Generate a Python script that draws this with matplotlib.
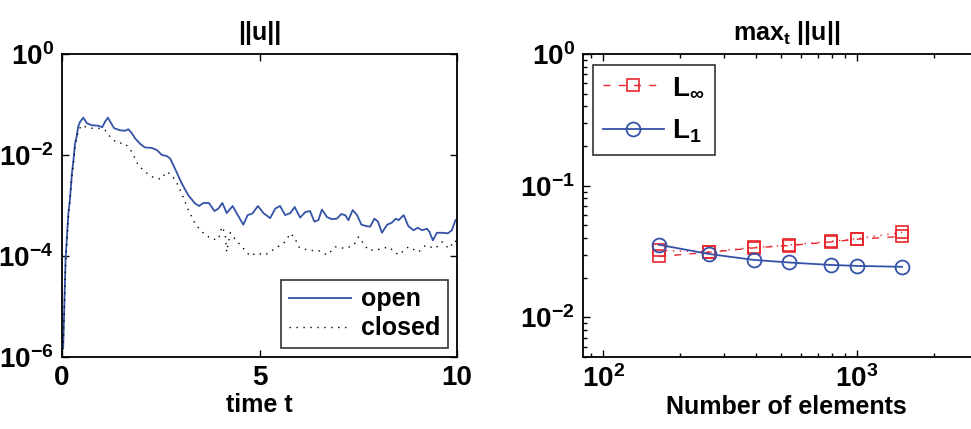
import numpy as np
import matplotlib
matplotlib.use("Agg")
import matplotlib.pyplot as plt
from matplotlib.ticker import FixedLocator, FuncFormatter, LogLocator, NullFormatter, NullLocator

plt.rcParams['font.family'] = ['Liberation Sans', 'DejaVu Sans']
plt.rcParams['font.weight'] = 'bold'
plt.rcParams['mathtext.fontset'] = 'custom'
plt.rcParams['mathtext.rm'] = 'Liberation Sans:bold'
plt.rcParams['mathtext.bf'] = 'Liberation Sans:bold'
plt.rcParams['mathtext.it'] = 'Liberation Sans:bold'
plt.rcParams['mathtext.sf'] = 'Liberation Sans:bold'

# ---- left panel data: time series (log10 of ||u||) ----
t_open = [0.03, 0.09, 0.16, 0.20, 0.25, 0.29, 0.33, 0.37, 0.41, 0.46, 0.54, 0.63, 0.75, 0.92,
          1.02, 1.09, 1.16, 1.22, 1.32, 1.47, 1.60, 1.68, 1.77, 1.85, 1.98, 2.10, 2.27, 2.40,
          2.53, 2.65, 2.74, 2.86, 3.03, 3.20, 3.37, 3.47, 3.58, 3.72, 3.86, 3.96, 4.06, 4.17,
          4.32, 4.45, 4.59, 4.70, 4.82, 4.96, 5.10, 5.27, 5.40, 5.52, 5.65, 5.78, 5.89, 6.03,
          6.16, 6.28, 6.39, 6.49, 6.58, 6.71, 6.83, 6.96, 7.07, 7.17, 7.25, 7.36, 7.47, 7.58,
          7.72, 7.80, 7.91, 8.00, 8.10, 8.23, 8.35, 8.45, 8.52, 8.65, 8.77, 8.90, 9.01, 9.11,
          9.24, 9.30, 9.39, 9.49, 9.62, 9.77, 9.87, 9.96, 10.0]
log_open = [-5.80, -4.08, -3.16, -2.89, -2.37, -2.10, -1.77, -1.64, -1.44, -1.34, -1.26, -1.37, -1.41, -1.42,
            -1.45, -1.34, -1.26, -1.34, -1.47, -1.51, -1.52, -1.49, -1.57, -1.67, -1.78, -1.85, -1.86, -1.90,
            -2.00, -2.02, -2.07, -2.27, -2.56, -2.80, -2.96, -3.01, -2.95, -2.95, -3.11, -3.06, -2.95, -3.15,
            -3.01, -3.19, -3.38, -3.19, -3.16, -3.01, -3.15, -3.25, -3.06, -3.01, -3.19, -3.15, -3.03, -3.24,
            -3.13, -3.11, -3.32, -3.29, -3.08, -3.23, -3.27, -3.26, -3.17, -3.19, -3.29, -3.09, -3.19, -3.38,
            -3.41, -3.42, -3.26, -3.32, -3.54, -3.38, -3.34, -3.26, -3.29, -3.19, -3.41, -3.49, -3.44, -3.49,
            -3.46, -3.52, -3.69, -3.54, -3.54, -3.55, -3.49, -3.29, -3.28]

t_closed = [0.03, 0.09, 0.16, 0.25, 0.33, 0.41, 0.50, 0.67, 0.92, 1.09, 1.22, 1.39, 1.60, 1.77,
            1.93, 2.10, 2.27, 2.51, 2.65, 2.78, 2.91, 3.03, 3.20, 3.37, 3.54, 3.79, 3.96, 4.05,
            4.13, 4.17, 4.26, 4.43, 4.64, 4.76, 4.93, 5.14, 5.40, 5.65, 5.78, 5.90, 5.99, 6.24,
            6.49, 6.71, 6.92, 7.17, 7.38, 7.51, 7.63, 7.76, 8.01, 8.27, 8.52, 8.77, 9.03, 9.20,
            9.45, 9.62, 9.79, 9.96, 10.0]
log_closed = [-5.85, -4.15, -3.25, -2.45, -1.85, -1.52, -1.41, -1.47, -1.47, -1.51, -1.64, -1.76, -1.77, -1.94,
              -2.20, -2.33, -2.43, -2.48, -2.33, -2.40, -2.56, -2.76, -3.09, -3.36, -3.52, -3.67, -3.67, -3.42,
              -3.55, -3.92, -3.54, -3.71, -3.89, -4.00, -3.94, -3.98, -3.85, -3.72, -3.55, -3.65, -3.82, -3.89,
              -3.89, -3.98, -3.82, -3.85, -3.79, -3.62, -3.75, -3.89, -3.87, -3.82, -3.98, -3.82, -3.92, -3.79,
              -3.85, -3.72, -3.85, -3.69, -3.82]

# ---- right panel data ----
n_elem = [166, 261, 393, 540, 790, 1000, 1503]
L1_vals = [0.0356, 0.0303, 0.0273, 0.0261, 0.0250, 0.0246, 0.0242]
Linf_vals = [0.0290, 0.0312, 0.0337, 0.0351, 0.0374, 0.0392, 0.0412]
Linf_vals_b = [0.0322, 0.0315, 0.0340, 0.0354, 0.0378, 0.0396, 0.0442]

blue = '#3453A8'
red = '#E8262C'
FS = 18
TFS = 20

W, H = 971, 429
fig = plt.figure(figsize=(W / 100, H / 100), dpi=100)

def frac(x0, y0, x1, y1):
    return [x0 / W, 1 - y1 / H, (x1 - x0) / W, (y1 - y0) / H]

def sci(v, pos):
    e = int(round(np.log10(v)))
    return r'$\mathbf{10^{%d}}$' % e

# ---------------- left axes ----------------
ax1 = fig.add_axes(frac(62, 54, 457, 357))
ax1.plot(t_open, 10 ** np.array(log_open), color=blue, lw=1.3, label='open')
ax1.plot(t_closed, 10 ** np.array(log_closed), color='black', lw=1.0,
         linestyle=(0, (1, 4)), label='closed')
ax1.set_yscale('log')
ax1.set_xlim(0, 10)
ax1.set_ylim(1e-6, 1)
ax1.xaxis.set_major_locator(FixedLocator([0, 5, 10]))
ax1.yaxis.set_major_locator(FixedLocator([1e-6, 1e-4, 1e-2, 1]))
ax1.yaxis.set_minor_locator(NullLocator())
ax1.yaxis.set_major_formatter(FuncFormatter(sci))
ax1.set_xlabel('time t', fontsize=FS, fontweight='bold', labelpad=1)
ax1.set_title('||u||', fontsize=FS, fontweight='bold', pad=10)
leg1 = ax1.legend(loc='lower right', bbox_to_anchor=(0.978, 0.03), fontsize=FS,
                  frameon=True, fancybox=False, edgecolor='black', handlelength=2.5,
                  borderpad=0.3, labelspacing=0.2, handletextpad=0.4, borderaxespad=0)
leg1.get_frame().set_linewidth(1.2)

# ---------------- right axes ----------------
ax2 = fig.add_axes(frac(583, 54, 990, 357))
ax2.plot(n_elem, Linf_vals_b, color=red, lw=1.0, linestyle=(0, (1, 4)), marker='s',
         ms=8, mfc='none', mec=red, mew=1.2)
ax2.plot(n_elem, Linf_vals, color=red, lw=1.0, linestyle=(0, (5, 6)), marker='s',
         ms=8, mfc='none', mec=red, mew=1.2, label=r'L$_{\infty}$')
ax2.plot(n_elem, L1_vals, color=blue, lw=1.3, linestyle='-', marker='o',
         ms=10, mfc='none', mec=blue, mew=1.3, label=r'L$_{1}$')
ax2.set_xscale('log')
ax2.set_yscale('log')
ax2.set_xlim(10 ** 1.921, 10 ** (1.921 + (990 - 583) / 254.0))
ax2.set_ylim(0.005, 1)
ax2.xaxis.set_major_locator(FixedLocator([100, 1000]))
ax2.xaxis.set_minor_locator(LogLocator(base=10, subs=np.arange(2, 10), numticks=20))
ax2.yaxis.set_major_locator(FixedLocator([0.01, 0.1, 1]))
ax2.yaxis.set_minor_locator(LogLocator(base=10, subs=np.arange(2, 10), numticks=20))
ax2.xaxis.set_major_formatter(FuncFormatter(sci))
ax2.yaxis.set_major_formatter(FuncFormatter(sci))
ax2.xaxis.set_minor_formatter(NullFormatter())
ax2.yaxis.set_minor_formatter(NullFormatter())
ax2.set_xlabel('Number of elements', fontsize=FS, fontweight='bold', labelpad=1)
ax2.set_title(r'max$_{\mathbf{t}}$ ||u||', fontsize=FS, fontweight='bold', pad=10)
h, l = ax2.get_legend_handles_labels()
leg2 = ax2.legend(h, l, loc='upper left', bbox_to_anchor=(0.025, 0.964), fontsize=FS + 2,
                  frameon=True, fancybox=False, edgecolor='black', handlelength=2.2,
                  borderpad=0.35, labelspacing=0.6, handletextpad=0.3, borderaxespad=0)
leg2.get_frame().set_linewidth(1.2)

for ax in (ax1, ax2):
    ax.tick_params(which='both', direction='in', top=True, right=True,
                   labelsize=TFS, width=1.0, pad=6)
    ax.tick_params(which='major', length=5)
    ax.tick_params(which='minor', length=3)
    for s in ax.spines.values():
        s.set_linewidth(1.3)
    for lab in ax.get_xticklabels() + ax.get_yticklabels():
        lab.set_fontweight('bold')

fig.savefig('out.png', dpi=100)
